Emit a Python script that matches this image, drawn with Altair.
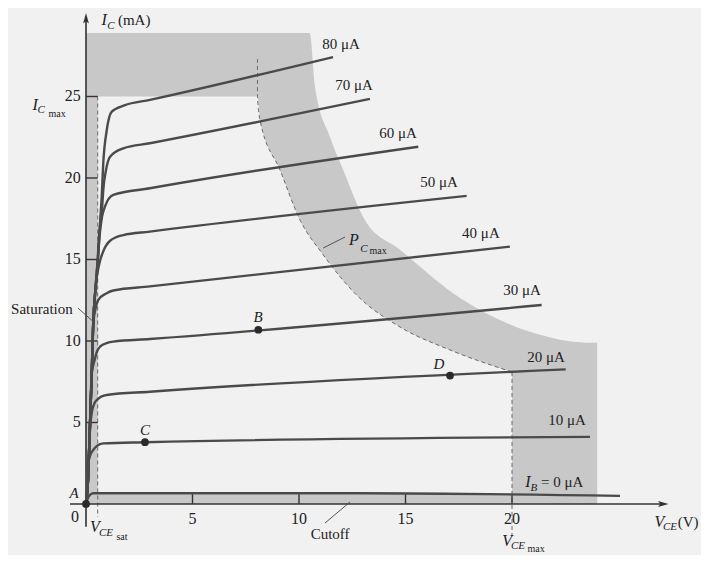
import altair as alt
import pandas as pd

FONT = "Liberation Serif"
BG = "#f1f1f1"
SHADE = "#c8c8c8"
INK = "#4a4a4a"
TXT = "#222222"

W, H = 693, 547
V_DOM = [-3.662, 28.873]
I_DOM = [-3.129, 30.429]
XS = alt.Scale(domain=V_DOM, nice=False, zero=False)
YS = alt.Scale(domain=I_DOM, nice=False, zero=False)

# ---------------- characteristic curves (V_CE in V, I_C in mA) ----------------
ib_names = ["80", "70", "60", "50", "40", "30", "20", "10", "0"]
c80_v = [0, 0.1, 0.19, 0.27, 0.34, 0.48, 0.58, 0.66, 0.74, 0.81, 0.97, 1.21, 1.8, 3.0, 11.6]
c80_i = [0, 1.6, 5.0, 8.2, 11.1, 13.6, 15.3, 17.3, 18.9, 20.9, 22.9, 24.07, 24.45, 24.79, 27.42]
c70_v = [0, 0.1, 0.19, 0.27, 0.34, 0.45, 0.55, 0.62, 0.74, 0.81, 0.94, 1.13, 1.75, 3.0, 13.33]
c70_i = [0, 1.6, 5.0, 8.0, 11.1, 13.3, 15.0, 16.6, 17.85, 19.26, 20.49, 21.31, 21.82, 22.13, 24.85]
c60_v = [0, 0.1, 0.19, 0.27, 0.34, 0.45, 0.55, 0.65, 0.75, 0.89, 1.28, 3.0, 15.6]
c60_i = [0, 1.6, 5.0, 8.0, 11.1, 13.3, 15.0, 16.6, 17.6, 18.24, 18.96, 19.37, 21.92]
c50_v = [0, 0.1, 0.19, 0.27, 0.34, 0.45, 0.6, 0.81, 1.13, 1.75, 3.0, 17.87]
c50_i = [0, 1.6, 5.0, 8.0, 11.1, 13.3, 14.6, 15.5, 16.15, 16.5, 16.71, 18.9]
c40_v = [0, 0.1, 0.19, 0.27, 0.34, 0.45, 0.58, 0.97, 1.28, 3.0, 19.9]
c40_i = [0, 1.6, 5.0, 8.0, 11.1, 12.0, 12.52, 12.93, 13.1, 13.35, 15.79]
c30_v = [0, 0.1, 0.19, 0.27, 0.4, 0.5, 0.66, 1.0, 1.28, 3.0, 21.39]
c30_i = [0, 1.6, 5.0, 8.0, 8.8, 9.3, 9.65, 9.88, 9.96, 10.12, 12.21]
c20_v = [0, 0.1, 0.19, 0.27, 0.37, 0.5, 0.97, 3.0, 22.52]
c20_i = [0, 1.6, 4.6, 5.6, 6.1, 6.38, 6.69, 6.89, 8.26]
c10_v = [0, 0.06, 0.11, 0.2, 0.34, 0.5, 0.81, 2.77, 23.66]
c10_i = [0, 1.2, 2.5, 3.0, 3.31, 3.55, 3.72, 3.79, 4.12]
c0_v = [0, 0.1, 0.2, 0.34, 12.86, 25.07]
c0_i = [0, 0.4, 0.58, 0.66, 0.66, 0.5]
curves_v = [c80_v, c70_v, c60_v, c50_v, c40_v, c30_v, c20_v, c10_v, c0_v]
curves_i = [c80_i, c70_i, c60_i, c50_i, c40_i, c30_i, c20_i, c10_i, c0_i]

# ---------------- shaded regions ----------------
outer_v = [0, 10.5, 10.75, 11.46, 12.07, 13.1, 14.74, 17.6, 21.0, 23.5, 24.0]
outer_i = [28.9, 28.9, 25.6, 22.5, 20.5, 17.4, 15.6, 12.6, 10.5, 9.9, 9.9]
soa_v = [0.55, 8.05, 8.17, 9.11, 10.05, 11.13, 12.72, 14.74, 17.09, 20.0]
soa_i = [25.0, 25.0, 23.56, 20.49, 17.42, 15.3, 12.8, 10.86, 9.45, 8.1]
soa_bottom = 0.6
pmax_top_v = [8.05]
pmax_top_i = [27.3]

# ---------------- operating points ----------------
pt_names = ["A", "B", "C", "D"]
pt_v = [0, 8.09, 2.77, 17.09]
pt_i = [0, 10.69, 3.79, 7.88]
pt_lab_v = [-0.56, 8.08, 2.77, 16.57]
pt_lab_i = [0.67, 11.47, 4.54, 8.59]

# ---------------- ticks ----------------
x_ticks = [5, 10, 15, 20]
y_ticks = [5, 10, 15, 20, 25]

# ---------------- labels ----------------
mu_text = ["80 μA", "70 μA", "60 μA", "50 μA", "40 μA", "30 μA", "20 μA", "10 μA", "Saturation", "Cutoff"]
mu_v = [11.97, 12.58, 14.65, 16.57, 18.54, 20.47, 21.6, 22.58, -2.07, 11.46]
mu_i = [28.22, 25.71, 22.76, 19.75, 16.63, 13.13, 9.02, 5.15, 11.96, -1.84]

left_text = ["= 0 μA", "(mA)", "(V)"]
left_v = [21.36, 1.5, 27.78]
left_i = [1.35, 29.69, -1.1]

big_it_text = ["I", "I", "I", "P", "V", "V", "V"]
big_it_v = [20.75, 0.85, -2.39, 12.58, 0.42, 26.92, 19.77]
big_it_i = [1.35, 29.69, 24.48, 16.2, -1.41, -1.1, -2.3]

sub_it_text = ["B", "C", "C", "C", "CE", "CE", "CE"]
sub_it_v = [21.03, 1.17, -2.11, 13.05, 0.94, 27.42, 20.28]
sub_it_i = [1.0, 29.33, 24.17, 15.64, -1.78, -1.41, -2.55]

sub_rm_text = ["max", "max", "sat", "max"]
sub_rm_v = [-1.36, 13.71, 1.69, 21.13]
sub_rm_i = [23.93, 15.5, -2.02, -2.78]

# leader lines
lead_v1 = [-0.38, 12.16, 11.22]
lead_i1 = [12.02, 16.38, -1.17]
lead_v2 = [0.42, 11.13, 12.39]
lead_i2 = [11.1, 15.7, 0.12]

# axis extents
xaxis_v = [-0.75, 27.1]
yaxis_i = [-1.4, 29.8]


def X(f="v"):
    return alt.X(f + ":Q", scale=XS, axis=None)


def Y(f="i"):
    return alt.Y(f + ":Q", scale=YS, axis=None)


# shaded background region
outer_df = pd.DataFrame({"v": outer_v, "i": outer_i, "b": [0.0] * len(outer_v)})
shade = alt.Chart(outer_df).mark_area(color=SHADE, interpolate="monotone").encode(
    x=X(), y=Y(), y2="b:Q")

soa_df = pd.DataFrame({"v": soa_v, "i": soa_i, "b": [soa_bottom] * len(soa_v)})
soa = alt.Chart(soa_df).mark_area(color=BG, interpolate="monotone").encode(
    x=X(), y=Y(), y2="b:Q")

# dashed P_Cmax boundary
pd_v = pmax_top_v + soa_v[1:]
pd_i = pmax_top_i + soa_i[1:]
pdash_df = pd.DataFrame({"v": pd_v, "i": pd_i, "k": list(range(len(pd_v)))})
pdash = alt.Chart(pdash_df).mark_line(color="#6a6a6a", strokeWidth=1, strokeDash=[4, 3],
                                      interpolate="monotone").encode(
    x=X(), y=Y(), order="k:Q")

# dashed verticals at V_CEsat and V_CEmax
dv_df = pd.DataFrame({"v": [0.55, 20.0], "i": [25.0, 8.1], "i2": [-0.8, -1.9]})
dverts = alt.Chart(dv_df).mark_rule(color="#6a6a6a", strokeWidth=1, strokeDash=[4, 3]).encode(
    x=X(), y=Y(), y2="i2:Q")

# curves
rows = []
for name, vs, is_ in zip(ib_names, curves_v, curves_i):
    for k, (v, i) in enumerate(zip(vs, is_)):
        rows.append({"ib": name, "v": v, "i": i, "k": k})
curve_df = pd.DataFrame(rows)
curves = alt.Chart(curve_df).mark_line(color=INK, strokeWidth=2.4, interpolate="monotone").encode(
    x=X(), y=Y(), detail="ib:N", order="k:Q")

# axes
ax_df = pd.DataFrame({"v": [xaxis_v[0], 0.0], "i": [0.0, yaxis_i[0]],
                      "v2": [xaxis_v[1], 0.0], "i2": [0.0, yaxis_i[1]]})
axes = alt.Chart(ax_df).mark_rule(color="#333333", strokeWidth=1.6).encode(
    x=X(), y=Y(), x2="v2:Q", y2="i2:Q")

arrow_df = pd.DataFrame({"v": [xaxis_v[1], 0.0], "i": [0.0, yaxis_i[1]], "a": [90, 0]})
arrows = alt.Chart(arrow_df).mark_point(shape="M0,-1L0.55,1L0,0.55L-0.55,1Z", filled=True,
                                        color="#333333", size=110, opacity=1).encode(
    x=X(), y=Y(), angle=alt.Angle("a:Q", scale=None))

xt_df = pd.DataFrame({"v": x_ticks, "i": [0.0] * len(x_ticks), "i2": [0.62] * len(x_ticks)})
xticks = alt.Chart(xt_df).mark_rule(color="#333333", strokeWidth=1.4).encode(
    x=X(), y=Y(), y2="i2:Q")
yt_df = pd.DataFrame({"v": [0.0] * len(y_ticks), "v2": [0.55] * len(y_ticks), "i": y_ticks})
yticks = alt.Chart(yt_df).mark_rule(color="#333333", strokeWidth=1.4).encode(
    x=X(), x2="v2:Q", y=Y())

lead_df = pd.DataFrame({"v": lead_v1, "i": lead_i1, "v2": lead_v2, "i2": lead_i2})
leaders = alt.Chart(lead_df).mark_rule(color="#444444", strokeWidth=0.9).encode(
    x=X(), y=Y(), x2="v2:Q", y2="i2:Q")

pts_df = pd.DataFrame({"v": pt_v, "i": pt_i})
pts = alt.Chart(pts_df).mark_circle(color="#2a2a2a", size=60, opacity=1).encode(x=X(), y=Y())


def text_layer(texts, vs, is_, size, italic=False, align="center"):
    df = pd.DataFrame({"t": texts, "v": vs, "i": is_})
    return alt.Chart(df).mark_text(font=FONT, fontSize=size,
                                   fontStyle="italic" if italic else "normal",
                                   align=align, baseline="middle", color=TXT).encode(
        x=X(), y=Y(), text="t:N")


xtl = text_layer(["0"] + [str(t) for t in x_ticks], [-0.52] + x_ticks,
                 [-0.8] + [-0.95] * len(x_ticks), 16)
ytl = text_layer([str(t) for t in y_ticks], [-0.25] * len(y_ticks), y_ticks, 16, align="right")
labs = text_layer(mu_text, mu_v, mu_i, 15)
labs_left = text_layer(left_text, left_v, left_i, 15, align="left")
big_it = text_layer(big_it_text, big_it_v, big_it_i, 16, italic=True)
sub_it = text_layer(sub_it_text, sub_it_v, sub_it_i, 11, italic=True)
sub_rm = text_layer(sub_rm_text, sub_rm_v, sub_rm_i, 10)
pt_labs = text_layer(pt_names, pt_lab_v, pt_lab_i, 15, italic=True)

chart = alt.layer(
    shade, soa, pdash, dverts, xticks, yticks, axes, arrows, leaders, curves, pts,
    xtl, ytl, labs, labs_left, big_it, sub_it, sub_rm, pt_labs
).properties(
    width=W, height=H, padding=0, autosize="none", background=BG
).configure_view(stroke=None)

chart.save("out.html", embed_options={"renderer": "svg", "actions": False})
